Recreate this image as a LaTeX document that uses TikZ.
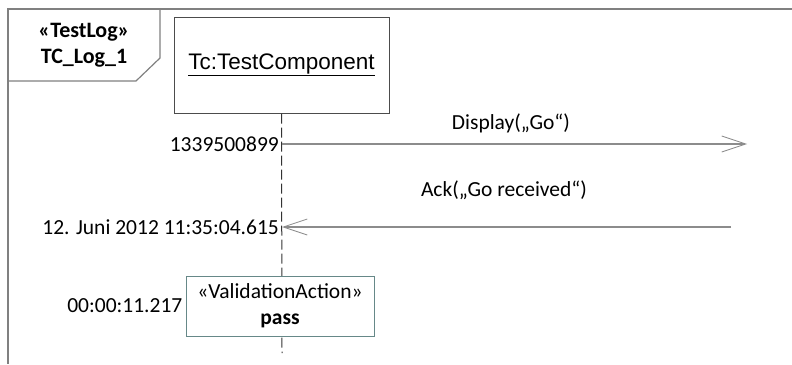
\documentclass[tikz,border=0pt]{standalone}
\usepackage{fontspec}
\setmainfont{Carlito}
\newfontfamily\arialfont{Liberation Sans}
\usetikzlibrary{arrows.meta}
\tikzset{
  frameline/.style={draw=black!50,line width=1.2pt},
  lifebox/.style={draw=black!70,line width=1pt,minimum width=215pt,minimum height=96pt,inner sep=0pt},
  actionbox/.style={draw=black!55!teal!60,fill=white,line width=1pt,minimum width=188pt,minimum height=60pt,align=center,inner sep=0pt},
  lifeline/.style={draw=black!80,line width=1pt,dash pattern=on 10pt off 4pt},
  msg/.style={draw=black!45,line width=1.2pt,-{Straight Barb[length=24pt,width=16pt,line width=0.8pt]}},
  stamp/.style={anchor=east,inner sep=3pt}
}
\begin{document}
\begin{tikzpicture}[x=1pt,y=-1pt,font=\fontsize{21.5}{26}\selectfont]
    \useasboundingbox (0,0) rectangle (792,364);
    % frame and name tag
    \draw[frameline] (792,9) -- (8,9) -- (8,364);
    \draw[frameline] (8,81) -- (136,81) -- (160,58) -- (160,9);
    \node[align=center,font=\fontsize{22}{25.5}\selectfont\bfseries] (tag) at (84,45) {«TestLog»\\TC\_Log\_1};
    % lifeline
    \node[lifebox] (tc) at (281.5,65) {\fontsize{22.5}{26}\arialfont\underline{Tc:TestComponent}};
    \coordinate (m1) at (282,144); \coordinate (m1e) at (747,144);
    \coordinate (m2s) at (731,227); \coordinate (m2) at (282,227);
    \coordinate (lend) at (282,353);
    \draw[lifeline] (tc.south) -- (lend);
    % messages
    \draw[msg] (m1) -- (m1e);
    \node (l1) at (511,123) {Display(„Go“)};
    \draw[msg] (m2s) -- (m2);
    \node (l2) at (504,190) {Ack(„Go received“)};
    \node[stamp] (t1) at (m1) {1339500899};
    \node[stamp] (t2) at (m2) {12. Juni 2012 11:35:04.615};
    % validation action
    \node[actionbox] (act) at (280,306) {«ValidationAction»\\\textbf{pass}};
    \node[stamp] (t3) at (act.west) {00:00:11.217};
  \end{tikzpicture}
\end{document}
